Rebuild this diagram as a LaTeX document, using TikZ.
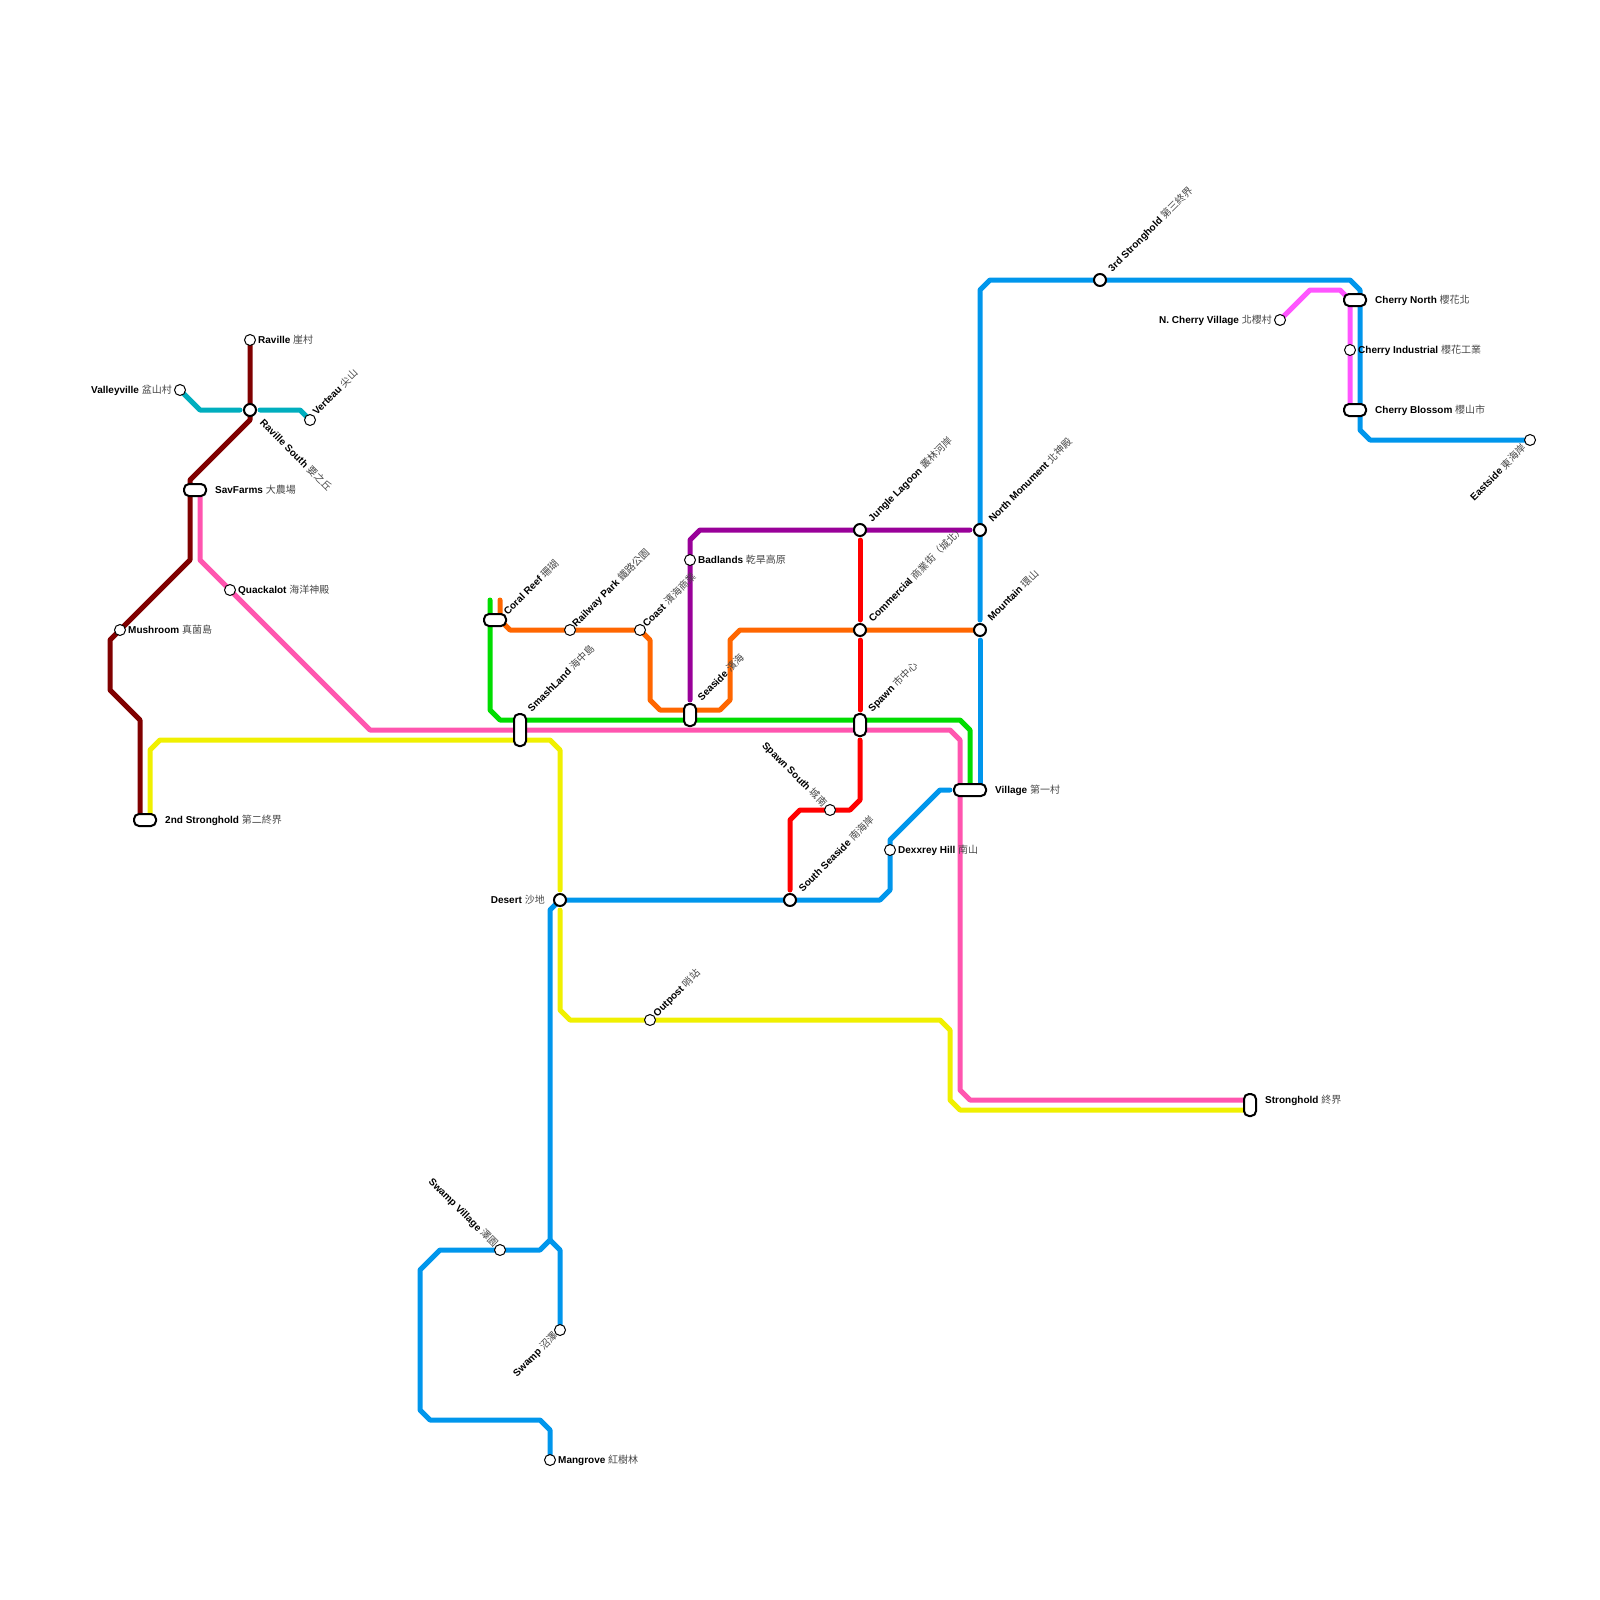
\documentclass[tikz,border=0pt]{standalone}
\usepackage{fontspec}
\setmainfont{Liberation Sans}
\newfontfamily\cjk{Noto Sans CJK TC}
\pgfdeclarelayer{lines}
\pgfsetlayers{lines,main}
\definecolor{cblue}{RGB}{0,150,236}
\definecolor{cmaroon}{RGB}{128,0,0}
\definecolor{cteal}{RGB}{0,174,190}
\definecolor{cpink}{RGB}{255,85,175}
\definecolor{cmag}{RGB}{255,85,255}
\definecolor{cgreen}{RGB}{0,221,0}
\definecolor{corange}{RGB}{255,102,0}
\definecolor{cpurple}{RGB}{153,0,153}
\definecolor{cred}{RGB}{255,0,0}
\definecolor{cyellow}{RGB}{240,240,0}
\newcommand{\lab}[2]{\textbf{#1} {\cjk\color{black!72}#2}}
\tikzset{
  x=1pt,y=-1pt,
  metro/.style={line width=5pt,line cap=round,line join=round},
  thinst/.style={circle,draw=black,fill=white,line width=1pt,inner sep=0pt,minimum size=11pt},
  boldst/.style={circle,draw=black,fill=white,line width=2pt,inner sep=0pt,minimum size=12pt},
  pill/.style={rectangle,draw=black,fill=white,line width=2pt,inner sep=0pt,rounded corners=5pt,minimum width=#1,minimum height=12pt},
  vpill/.style={rectangle,draw=black,fill=white,line width=2pt,inner sep=0pt,rounded corners=5pt,minimum height=#1,minimum width=12pt},
  lbl/.style={inner sep=0pt,font=\fontsize{10pt}{11pt}\selectfont,text=black},
  lbr/.style={lbl,anchor=west},
  lbll/.style={lbl,anchor=east},
  ur/.style={lbl,rotate=45,anchor=west},
  ul/.style={lbl,rotate=-45,anchor=east},
  dl/.style={lbl,rotate=45,anchor=east},
  dr/.style={lbl,rotate=-45,anchor=west}
}
\begin{document}
\begin{tikzpicture}
\useasboundingbox (0,0) rectangle (1600,1600);
% stations
\node[thinst] (raville) at (250,340) {};
\node[thinst] (valley) at (180,390) {};
\node[thinst] (verteau) at (310,420) {};
\node[boldst] (ravs) at (250,410) {};
\node[pill=22pt] (sav) at (195,490) {};
\node[thinst] (quack) at (230,590) {};
\node[thinst] (mush) at (120,630) {};
\node[pill=22pt] (second) at (145,820) {};
\node[pill=22pt] (coral) at (495,620) {};
\node[thinst] (rail) at (570,630) {};
\node[thinst] (coast) at (640,630) {};
\node[vpill=32pt] (smash) at (520,730) {};
\node[thinst] (bad) at (690,560) {};
\node[vpill=22pt] (seaside) at (690,715) {};
\node[boldst] (jungle) at (860,530) {};
\node[boldst] (nmon) at (980,530) {};
\node[boldst] (comm) at (860,630) {};
\node[boldst] (mount) at (980,630) {};
\node[vpill=22pt] (spawn) at (860,725) {};
\node[thinst] (spsouth) at (830,810) {};
\node[boldst] (sseas) at (790,900) {};
\node[thinst] (dex) at (890,850) {};
\node[pill=32pt] (village) at (970,790) {};
\node[boldst] (desert) at (560,900) {};
\node[thinst] (outpost) at (650,1020) {};
\node[vpill=22pt] (strong) at (1250,1105) {};
\node[thinst] (swv) at (500,1250) {};
\node[thinst] (swamp) at (560,1330) {};
\node[thinst] (mang) at (550,1460) {};
\node[boldst] (third) at (1100,280) {};
\node[thinst] (ncv) at (1280,320) {};
\node[pill=22pt] (cnorth) at (1355,300) {};
\node[thinst] (cind) at (1350,350) {};
\node[pill=22pt] (cblos) at (1355,410) {};
\node[thinst] (east) at (1530,440) {};
% lines
\begin{pgfonlayer}{lines}
\draw[metro,cmaroon] (raville.center) -- (ravs.center) -- (250,420) -- (190,480) -- (190,560) -- (mush.center) -- (110,640) -- (110,690) -- (140,720) -- (140,820);
\draw[metro,cteal] (valley.center) -- (200,410) -- ([shift={(-10,0)}]ravs.center);
\draw[metro,cteal] ([shift={(10,0)}]ravs.center) -- (300,410) -- (verteau.center);
\draw[metro,cpink] (200,490) -- (200,560) -- (quack.center) -- (370,730) -- (950,730) -- (960,740) -- (960,1090) -- (970,1100) -- (1250,1100);
\draw[metro,cyellow] (150,820) -- (150,750) -- (160,740) -- (550,740) -- (560,750) -- ([shift={(0,-10)}]desert.center);
\draw[metro,cyellow] ([shift={(0,10)}]desert.center) -- (560,1010) -- (570,1020) -- (outpost.center) -- (940,1020) -- (950,1030) -- (950,1100) -- (960,1110) -- (1250,1110);
\draw[metro,cgreen] (490,600) -- (490,710) -- (500,720) -- (960,720) -- (970,730) -- (970,790);
\draw[metro,corange] (500,600) -- (500,620) -- (510,630) -- (rail.center) -- (coast.center) -- (650,640) -- (650,700) -- (660,710) -- (720,710) -- (730,700) -- (730,640) -- (740,630) -- (comm.center) -- (mount.center);
\draw[metro,cpurple] ([shift={(0,-15)}]seaside.center) -- (bad.center) -- (690,540) -- (700,530) -- (jungle.center) -- ([shift={(-10,0)}]nmon.center);
\draw[metro,cred] ([shift={(0,10)}]jungle.center) -- ([shift={(0,-10)}]comm.center);
\draw[metro,cred] ([shift={(0,10)}]comm.center) -- ([shift={(0,-15)}]spawn.center);
\draw[metro,cred] ([shift={(0,15)}]spawn.center) -- (860,800) -- (850,810) -- (spsouth.center) -- (800,810) -- (790,820) -- ([shift={(0,-10)}]sseas.center);
\draw[metro,cblue] ([shift={(0,-10)}]mount.center) -- (nmon.center) -- (980,290) -- (990,280) -- (third.center) -- (1350,280) -- (1360,290) -- (1360,430) -- (1370,440) -- (east.center);
\draw[metro,cblue] ([shift={(0,10)}]mount.center) -- (980,785);
\draw[metro,cblue] ([shift={(-20,0)}]village.center) -- (940,790) -- (890,840) -- (dex.center) -- (890,890) -- (880,900) -- (sseas.center) -- (desert.center) -- (550,910) -- (550,1240) -- (540,1250) -- (swv.center) -- (440,1250) -- (420,1270) -- (420,1410) -- (430,1420) -- (540,1420) -- (550,1430) -- (mang.center);
\draw[metro,cblue] (550,1240) -- (560,1250) -- (swamp.center);
\draw[metro,cmag] (ncv.center) -- (1310,290) -- (1340,290) -- (1350,300) -- (cind.center) -- (1350,410);
\end{pgfonlayer}
% labels
\node[lbr] (l1) at ([shift={(8,0)}]raville.center) {\lab{Raville}{崖村}};
\node[lbll] (l2) at ([shift={(-8,0)}]valley.center) {\lab{Valleyville}{盆山村}};
\node[ur] (l3) at ([shift={(4,-7)}]verteau.center) {\lab{Verteau}{尖山}};
\node[dr] (l4) at ([shift={(12,11)}]ravs.center) {\lab{Raville South}{要之丘}};
\node[lbr] (l5) at ([shift={(20,0)}]sav.center) {\lab{SavFarms}{大農場}};
\node[lbr] (l6) at ([shift={(8,0)}]quack.center) {\lab{Quackalot}{海洋神殿}};
\node[lbr] (l7) at ([shift={(8,0)}]mush.center) {\lab{Mushroom}{真菌島}};
\node[lbr] (l8) at ([shift={(20,0)}]second.center) {\lab{2nd Stronghold}{第二終界}};
\node[ur] (l9) at ([shift={(10,-7)}]coral.center) {\lab{Coral Reef}{珊瑚}};
\node[ur] (l10) at ([shift={(4,-5)}]rail.center) {\lab{Railway Park}{鐵路公園}};
\node[ur] (l11) at ([shift={(4,-5)}]coast.center) {\lab{Coast}{濱海商業}};
\node[ur] (l12) at ([shift={(9,-20)}]smash.center) {\lab{SmashLand}{海中島}};
\node[lbr] (l13) at ([shift={(8,0)}]bad.center) {\lab{Badlands}{乾旱高原}};
\node[ur] (l14) at ([shift={(9,-16)}]seaside.center) {\lab{Seaside}{濱海}};
\node[ur] (l15) at ([shift={(10,-10)}]jungle.center) {\lab{Jungle Lagoon}{叢林河岸}};
\node[ur] (l16) at ([shift={(10,-10)}]nmon.center) {\lab{North Monument}{北神殿}};
\node[ur] (l17) at ([shift={(10,-10)}]comm.center) {\lab{Commercial}{商業街（城北）}};
\node[ur] (l18) at ([shift={(9,-11)}]mount.center) {\lab{Mountain}{環山}};
\node[ur] (l19) at ([shift={(10,-15)}]spawn.center) {\lab{Spawn}{市中心}};
\node[ul] (l20) at ([shift={(-5,-5)}]spsouth.center) {\lab{Spawn South}{城南}};
\node[ur] (l21) at ([shift={(10,-10)}]sseas.center) {\lab{South Seaside}{南海岸}};
\node[lbr] (l22) at ([shift={(8,0)}]dex.center) {\lab{Dexxrey Hill}{南山}};
\node[lbr] (l23) at ([shift={(25,0)}]village.center) {\lab{Village}{第一村}};
\node[lbll] (l24) at ([shift={(-15,0)}]desert.center) {\lab{Desert}{沙地}};
\node[ur] (l25) at ([shift={(5,-5)}]outpost.center) {\lab{Outpost}{哨站}};
\node[lbr] (l26) at ([shift={(15,-5)}]strong.center) {\lab{Stronghold}{終界}};
\node[ul] (l27) at ([shift={(-4,-4)}]swv.center) {\lab{Swamp Village}{澤園}};
\node[dl] (l28) at ([shift={(-4,4)}]swamp.center) {\lab{Swamp}{沼澤}};
\node[lbr] (l29) at ([shift={(8,0)}]mang.center) {\lab{Mangrove}{紅樹林}};
\node[ur] (l30) at ([shift={(10,-10)}]third.center) {\lab{3rd Stronghold}{第三終界}};
\node[lbll] (l31) at ([shift={(-8,0)}]ncv.center) {\lab{N. Cherry Village}{北櫻村}};
\node[lbr] (l32) at ([shift={(20,0)}]cnorth.center) {\lab{Cherry North}{櫻花北}};
\node[lbr] (l33) at ([shift={(8,0)}]cind.center) {\lab{Cherry Industrial}{櫻花工業}};
\node[lbr] (l34) at ([shift={(20,0)}]cblos.center) {\lab{Cherry Blossom}{櫻山市}};
\node[dl] (l35) at ([shift={(-6,6)}]east.center) {\lab{Eastside}{東海岸}};
\end{tikzpicture}
\end{document}
